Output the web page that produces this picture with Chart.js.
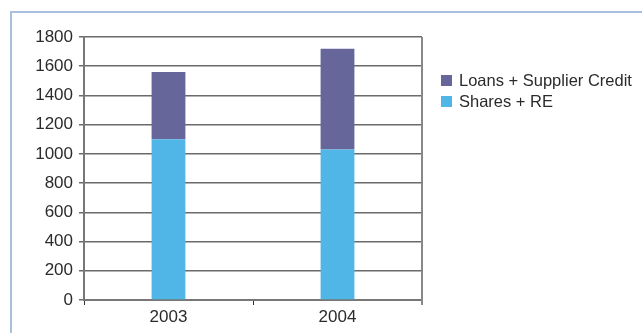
<!DOCTYPE html>
<html>
<head>
<meta charset="utf-8">
<script src="https://cdn.jsdelivr.net/npm/chart.js@4"></script>
<style>
  html, body { margin: 0; padding: 0; background: #fff; }
  #wrap { position: relative; width: 642px; height: 333px; }
</style>
</head>
<body>
<div id="wrap"><canvas id="c" width="642" height="333"></canvas></div>
<script>
const categories = ['2003', '2004'];
const sharesRE = [1100, 1030];
const loansSupplier = [460, 690];
const seriesNames = ['Shares + RE', 'Loans + Supplier Credit'];
const yTicks = [0, 200, 400, 600, 800, 1000, 1200, 1400, 1600, 1800];

const COL_SHARES = '#50b6e8';
const COL_LOANS = '#66669b';
const GRID = '#6b6b6b';
const FONT = '"Liberation Sans", Arial, Helvetica, sans-serif';

const framePlugin = {
  id: 'frame',
  beforeDraw(chart) {
    const ctx = chart.ctx;
    ctx.save();
    ctx.strokeStyle = '#a9c1e0';
    ctx.lineWidth = 2;
    ctx.beginPath();
    ctx.moveTo(11, 333);
    ctx.lineTo(11, 12);
    ctx.lineTo(642, 12);
    ctx.stroke();
    ctx.restore();
  },
  afterDraw(chart) {
    const ctx = chart.ctx;
    const a = chart.chartArea;
    ctx.save();
    ctx.strokeStyle = '#888';
    ctx.lineWidth = 2;
    ctx.beginPath();
    ctx.moveTo(a.right, a.top);
    ctx.lineTo(a.right, a.bottom + 5);
    ctx.stroke();
    const items = chart.data.datasets.slice().reverse();
    ctx.font = '16.5px ' + FONT;
    ctx.textBaseline = 'middle';
    items.forEach((ds, i) => {
      const cy = 80 + i * 21;
      ctx.fillStyle = ds.backgroundColor;
      ctx.fillRect(441, cy - 5, 11, 11);
      ctx.fillStyle = '#2b2b2b';
      ctx.fillText(ds.label, 459, cy + 1);
    });
    ctx.restore();
  }
};

new Chart(document.getElementById('c'), {
  type: 'bar',
  data: {
    labels: categories,
    datasets: [
      { label: seriesNames[0], data: sharesRE, backgroundColor: COL_SHARES, categoryPercentage: 1, barPercentage: 0.2 },
      { label: seriesNames[1], data: loansSupplier, backgroundColor: COL_LOANS, categoryPercentage: 1, barPercentage: 0.2 }
    ]
  },
  options: {
    responsive: false,
    animation: false,
    devicePixelRatio: 1,
    layout: { padding: { left: 0, right: 220, top: 37, bottom: 0 } },
    plugins: { legend: { display: false }, tooltip: { enabled: false } },
    scales: {
      x: {
        stacked: true,
        afterFit(s) { s.height = 33; },
        grid: { drawOnChartArea: false, drawTicks: true, tickLength: 5, color: '#333', offset: true },
        border: { display: true, color: '#777', width: 2 },
        ticks: { color: '#2b2b2b', font: { family: FONT, size: 17 }, padding: 2 }
      },
      y: {
        stacked: true,
        min: 0, max: 1800,
        afterFit(s) { s.width = 84; },
        afterBuildTicks(s) { s.ticks = yTicks.map(v => ({ value: v })); },
        grid: { color: GRID, lineWidth: 1.5, tickLength: 5 },
        border: { display: true, color: '#777', width: 2 },
        ticks: { color: '#2b2b2b', font: { family: FONT, size: 17 }, padding: 6, callback: v => String(v) }
      }
    }
  },
  plugins: [framePlugin]
});
</script>
</body>
</html>
